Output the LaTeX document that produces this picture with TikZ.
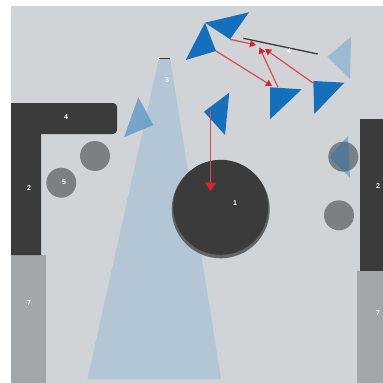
\documentclass[tikz,border=0pt]{standalone}
\usepackage{fontspec}
\setmainfont{Liberation Sans}
\usetikzlibrary{arrows.meta}
\definecolor{bgc}{HTML}{D0D4D7}
\definecolor{darkc}{HTML}{3C3B3B}
\definecolor{grayc}{HTML}{A4A7AA}
\definecolor{circc}{HTML}{7E7F82}
\definecolor{beamc}{HTML}{B3C6D5}
\definecolor{bluec}{HTML}{1470BC}
\definecolor{palec}{HTML}{9DBAD3}
\definecolor{redc}{HTML}{E2474F}
\definecolor{tipc}{HTML}{E0202C}
\tikzset{
  lab/.style={text=white,font=\bfseries\fontsize{7}{7}\selectfont,inner sep=0pt},
  tri/.style={fill=bluec,draw=none},
  ray/.style={redc,line width=1.2pt,-{Triangle[length=6pt,width=7pt,color=tipc]}},
  bigray/.style={redc,line width=1.2pt,-{Triangle[length=8.5pt,width=11pt,color=tipc]}},
  disc/.style={circle,fill=circc,minimum size=30pt,inner sep=0pt},
}
\begin{document}
\begin{tikzpicture}[x=1pt,y=-1pt]
\useasboundingbox (0,0) rectangle (383,383);
\fill[white] (0,0) rectangle (383,383);
\fill[bgc] (11,6) rectangle (383,383);
% beam
\fill[beamc] (159,58) -- (170,58) -- (221,379) -- (87.5,379) -- cycle;
\draw[darkc,line width=0.8pt] (158.5,58) -- (170,58);
% walls
\fill[grayc] (11,255) rectangle (46,383);
\fill[grayc] (356.5,271) rectangle (383,383);
\fill[darkc] (11,103) -- (113,103) arc[start angle=-90,end angle=0,radius=4] -- (117,130) arc[start angle=0,end angle=90,radius=4] -- (41,134) -- (41,255) -- (11,255) -- cycle;
\fill[darkc] (360,119) rectangle (383,271);
% discs
\node[disc] (d1) at (95,156) {};
\node[disc] (d2) at (61.3,182.7) {};
\node[disc] (d3) at (343.3,156.7) {};
\node[disc] (d4) at (339,215.3) {};
\fill[bluec,opacity=0.4] (329,157) -- (348,136) -- (350,178) -- cycle;
% main disc
\fill[circc!60!darkc] (220.7,209.3) circle[radius=49];
\fill[darkc] (220.7,207.3) circle[radius=47.5];
\node[circle,minimum size=98pt,inner sep=0pt] (main) at (220.7,209.3) {};
% pale triangles
\fill[bluec!50!palec,opacity=0.75] (138.3,97.3) -- (153.3,125) -- (124,137.3) -- cycle;
\fill[palec] (351,36.7) -- (327.3,56.7) -- (350,79) -- cycle;
% blue triangles
\fill[tri] (205,22.7) -- (249,12.3) -- (230,39.3) -- cycle;
\fill[tri] (205,22.7) -- (185.7,60) -- (216,51) -- cycle;
\fill[tri] (270,87.3) -- (301.7,89.3) -- (270,119.3) -- cycle;
\fill[tri] (313.3,81) -- (344.3,82.7) -- (314.3,114) -- cycle;
\fill[tri] (229.3,92.7) -- (204,111.7) -- (225,135) -- cycle;
% anchors for connectors
\coordinate (a1) at (230,39.3);
\coordinate (a2) at (216,51);
\coordinate (a3) at (278,87.3);
\coordinate (a4) at (313,83);
\coordinate (a5) at (210.5,110);
\coordinate (m1) at (256,45);
\coordinate (m2) at (259.5,47.5);
\coordinate (m3) at (265,49);
\coordinate (t3) at (272,86);
\coordinate (t5) at (210.5,191);
% mirror
\draw[darkc,line width=1.3pt] (243.3,38.3) -- (317.7,54);
% rays
\draw[ray] (a1) -- (m1);
\draw[ray] (a2) -- (t3);
\draw[ray] (a3) -- (m2);
\draw[ray] (a4) -- (m3);
\draw[bigray] (a5) -- (t5);
% labels
\node[lab] (l1) at (235,203) {1};
\node[lab] (l2a) at (29,188) {2};
\node[lab] (l2b) at (378,186) {2};
\node[lab] (l3) at (167,80) {3};
\node[lab] (l4a) at (66,117) {4};
\node[lab] (l4b) at (289,51) {4};
\node[lab] (l5) at (64,182) {5};
\node[lab] (l7a) at (29,303) {7};
\node[lab] (l7b) at (378,313) {7};
\end{tikzpicture}
\end{document}
